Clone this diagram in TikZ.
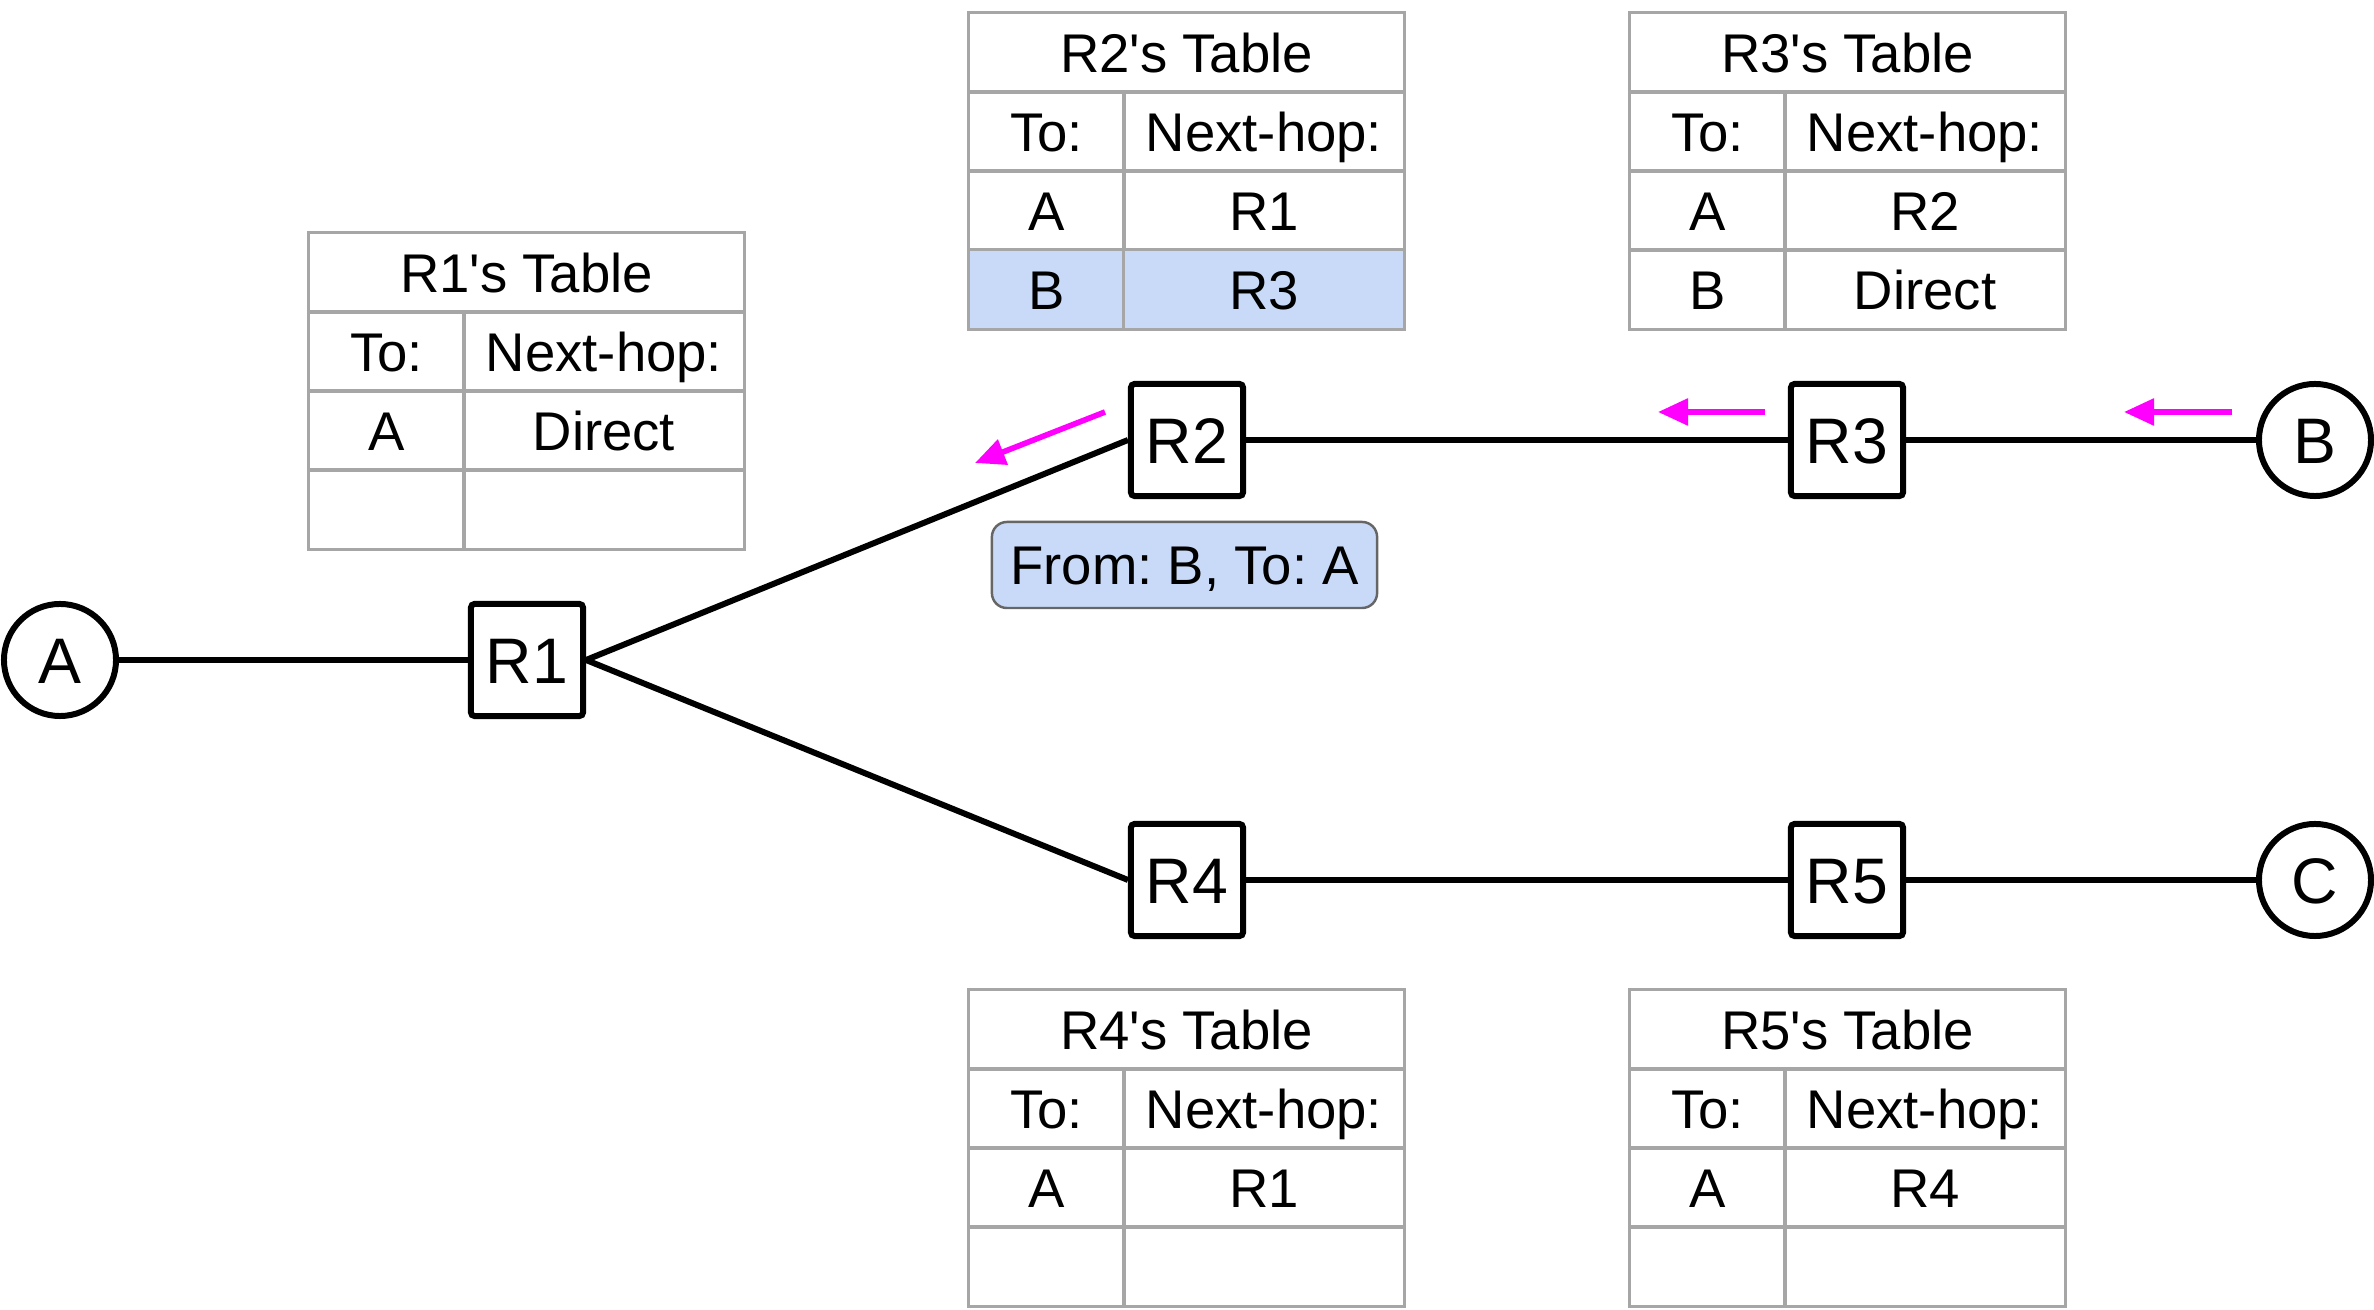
\documentclass[tikz,border=0pt]{standalone}
\usepackage{fontspec}
\setmainfont{Liberation Sans}
\usetikzlibrary{arrows.meta}
\definecolor{tabgray}{HTML}{A6A6A6}
\definecolor{hl}{HTML}{C9DAF8}
\definecolor{mag}{HTML}{FF00FF}
\definecolor{lblgray}{HTML}{666666}
\frenchspacing
\newcommand{\rtab}[9]{%
\begin{scope}[shift={(#2,#3)}]
\node[cell, minimum width=4.35cm] (#1t) at (217.5,39.5) {#4};
\node[cell, minimum width=1.55cm] (#1a) at (77.5,118.5) {To:};
\node[cell, minimum width=2.80cm] (#1b) at (295,118.5) {Next-hop:};
\node[cell, minimum width=1.55cm] (#1c) at (77.5,197.5) {#5};
\node[cell, minimum width=2.80cm] (#1d) at (295,197.5) {#6};
\node[cell, minimum width=1.55cm, #9] (#1e) at (77.5,276.5) {#7};
\node[cell, minimum width=2.80cm, #9] (#1f) at (295,276.5) {#8};
\end{scope}}
\begin{document}
\begin{tikzpicture}[x=0.01cm,y=-0.01cm,
  cell/.style={draw=tabgray, line width=0.85pt, inner sep=0pt, minimum height=0.79cm,
    font=\fontsize{15.5}{18}\selectfont, text height=11.1pt, text depth=0pt},
  router/.style={draw, line width=1.7pt, rounded corners=1pt, minimum size=1.12cm, inner sep=0pt,
    font=\fontsize{18.3}{21}\selectfont, text height=13.1pt, text depth=0pt},
  host/.style={draw, circle, line width=1.7pt, minimum size=1.12cm, inner sep=0pt,
    font=\fontsize{18.3}{21}\selectfont, text height=13.1pt, text depth=0pt},
  link/.style={line width=1.7pt},
  flow/.style={draw=mag, line width=1.6pt, -{Triangle[length=0.3cm,width=0.26cm]}},
  lbl/.style={draw=lblgray, fill=hl, line width=0.7pt, rounded corners=0.15cm,
    minimum width=3.85cm, minimum height=0.86cm, inner sep=0pt,
    font=\fontsize{15.5}{18}\selectfont, text height=11.1pt, text depth=0pt}]
\useasboundingbox (0,0) rectangle (2374,1310);

% tables
\rtab{t1}{309}{233}{R1\textquotesingle s Table}{A}{Direct}{}{}{}
\rtab{t2}{969}{13}{R2\textquotesingle s Table}{A}{R1}{B}{R3}{fill=hl}
\rtab{t3}{1630}{13}{R3\textquotesingle s Table}{A}{R2}{B}{Direct}{}
\rtab{t4}{969}{990}{R4\textquotesingle s Table}{A}{R1}{}{}{}
\rtab{t5}{1630}{990}{R5\textquotesingle s Table}{A}{R4}{}{}{}

% nodes
\node[host] (A) at (60,660) {A};
\node[router] (R1) at (527,660) {R1};
\node[router] (R2) at (1187,440) {R2};
\node[router] (R3) at (1847,440) {R3};
\node[host] (B) at (2315,440) {B};
\node[router] (R4) at (1187,880) {R4};
\node[router] (R5) at (1847,880) {R5};
\node[host] (C) at (2315,880) {C};

% links
\draw[link] (A) -- (R1);
\draw[link] (R1.east) -- (R2.west);
\draw[link] (R1.east) -- (R4.west);
\draw[link] (R2) -- (R3);
\draw[link] (R3) -- (B);
\draw[link] (R4) -- (R5);
\draw[link] (R5) -- (C);

% packet label
\node[lbl] (msg) at (1184.5,565) {From: B, To: A};

% flow arrows
\coordinate (f1s) at (1105,412);
\coordinate (f1e) at (975,463);
\coordinate (f2s) at (1765,412);
\coordinate (f2e) at (1658,412);
\coordinate (f3s) at (2232,412);
\coordinate (f3e) at (2124,412);
\draw[flow] (f1s) -- (f1e);
\draw[flow] (f2s) -- (f2e);
\draw[flow] (f3s) -- (f3e);
\end{tikzpicture}
\end{document}
